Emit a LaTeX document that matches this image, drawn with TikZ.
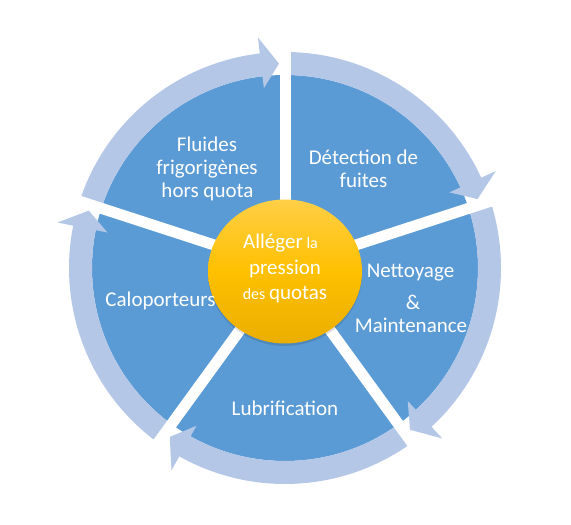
\documentclass[tikz,border=0pt]{standalone}
\usepackage{fontspec}
\setmainfont{Carlito}
\definecolor{pieblue}{RGB}{91,155,213}
\definecolor{ringblue}{RGB}{180,199,231}
\definecolor{goldtop}{RGB}{255,207,70}
\definecolor{goldmid}{RGB}{255,192,0}
\definecolor{goldbot}{RGB}{234,174,0}
\begin{document}
\begin{tikzpicture}[x=1pt,y=1pt,
  lbl/.style={text=white,font=\fontsize{21}{25}\selectfont,anchor=base,inner sep=0pt},
  gapline/.style={white,line width=11pt},
  ringarrow/.style={fill=ringblue}]
\useasboundingbox (0,0) rectangle (571,525);
\fill[white] (0,0) rectangle (571,525);
\coordinate (C) at (285,257);
% pie
\fill[pieblue] (C) circle[radius=193];
% ring arrows
\begin{scope}[shift={(C)}]
\foreach \g in {162,90,18,-54,-126}{
  \pgfmathsetmacro{\e}{\g-72}
  \pgfmathsetmacro{\b}{\e+6.7}
  \pgfmathsetmacro{\t}{\e+1.7}
  \fill[ringarrow] (\g:216) arc[start angle=\g,end angle=\b,radius=216]
    -- (\b:232) -- (\t:204.5) -- (\b:181) -- (\b:193)
    arc[start angle=\b,end angle=\g,radius=193] -- cycle;
}
\end{scope}
% gaps
\foreach \g in {162,90,18,-54,-126}{
  \draw[gapline] (C) -- ++(\g:250);
}
% hub
\fill[black,opacity=0.12] (285,251) ellipse[x radius=77,y radius=72];
\shade[top color=goldtop,bottom color=goldbot,middle color=goldmid] (285,253.5) ellipse[x radius=77,y radius=72];
% labels
\node[lbl] (fa) at (207,373) {Fluides};
\node[lbl] (fb) at (207,350) {frigorigènes};
\node[lbl] (fc) at (207.5,327) {hors quota};
\node[lbl] (da) at (363.5,360) {Détection de};
\node[lbl] (db) at (363.5,337) {fuites};
\node[lbl] (na) at (410.5,247) {Nettoyage};
\node[lbl] (nb) at (413,215) {\&};
\node[lbl] (nc) at (411,192) {Maintenance};
\node[lbl] (ca) at (160.5,218) {Caloporteurs};
\node[lbl] (lu) at (285,109) {Lubrification};
\node[lbl] (ha) at (280.5,276) {Alléger{\fontsize{16}{20}\selectfont\ la}};
\node[lbl] (hb) at (285,250.7) {pression};
\node[lbl] (hc) at (285,225) {{\fontsize{16}{20}\selectfont des }quotas};
\end{tikzpicture}
\end{document}
